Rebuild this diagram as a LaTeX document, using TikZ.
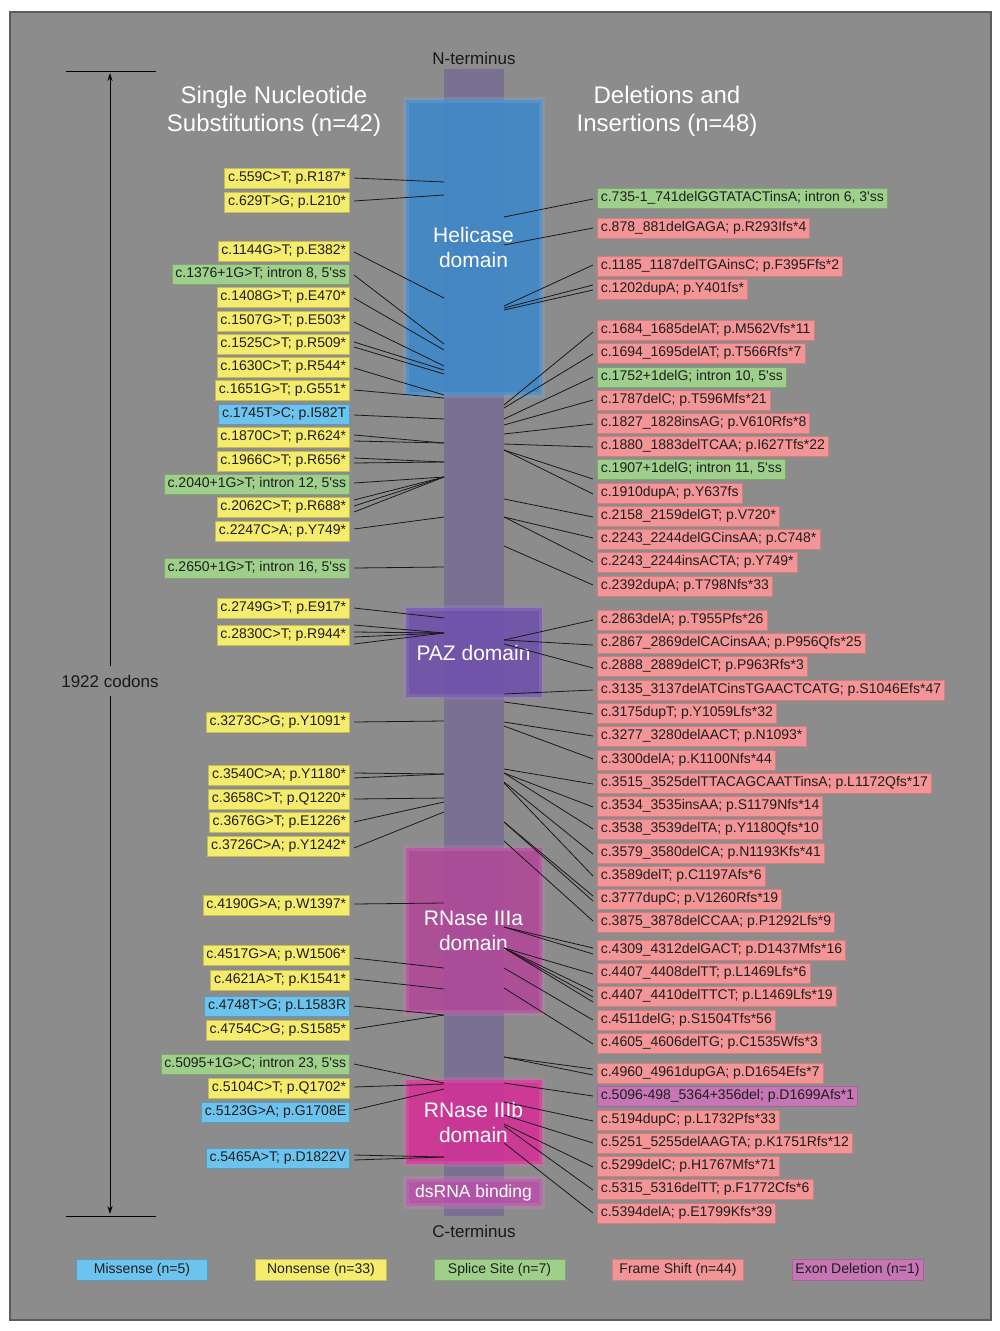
\documentclass[tikz,border=0pt]{standalone}
\usepackage{fontspec}
\setmainfont{Liberation Sans}[Ligatures=TeXOff]
\usetikzlibrary{arrows.meta}
\definecolor{bgc}{HTML}{8C8C8C}
\definecolor{framec}{HTML}{5C5C5C}
\definecolor{barc}{HTML}{7A7192}
\definecolor{cyel}{HTML}{F5EB6C}
\definecolor{cgrn}{HTML}{9FD08B}
\definecolor{cblu}{HTML}{6CC4EE}
\definecolor{cpnk}{HTML}{F39597}
\definecolor{cpur}{HTML}{C675B5}
\definecolor{dhel}{HTML}{3D88CA}
\definecolor{dpaz}{HTML}{6F50AE}
\definecolor{dra}{HTML}{B24799}
\definecolor{drb}{HTML}{D52F97}
\definecolor{dds}{HTML}{B752A8}
\definecolor{txt}{HTML}{1E1E1E}
\newcommand\lcn[3]{\path (444,#3) coordinate (lend); \draw[conn] ([shift={(4,#2)}]#1.east) -- (lend);}
\newcommand\rcn[3]{\path (504,#2) coordinate (rend); \draw[conn] (rend) -- ([shift={(-4,#3)}]#1.west);}
\tikzset{
  lab/.style={font=\fontsize{14}{16}\selectfont, text=txt, inner xsep=3.5pt, inner ysep=3.5pt, text height=10pt, text depth=3pt, line width=0.7pt},
  ly/.style={lab, fill=cyel, draw=cyel!80!black},
  lg/.style={lab, fill=cgrn, draw=cgrn!80!black},
  lb/.style={lab, fill=cblu, draw=cblu!80!black},
  lp/.style={lab, fill=cpnk, draw=cpnk!85!black},
  lm/.style={lab, fill=cpur, draw=cpur!85!black},
  lft/.style={anchor=east, yshift=-1pt},
  rgt/.style={anchor=west, yshift=-1pt},
  leg/.style={minimum width=131, inner ysep=4pt, yshift=-1pt},
  conn/.style={draw=black!90, line width=0.8pt},
  dom/.style={text=white, align=center, font=\fontsize{21}{25}\selectfont, line width=6pt, inner sep=0pt, fill opacity=0.88, draw opacity=0.3, text opacity=1},
  ttl/.style={text=white, align=center, font=\fontsize{24}{28}\selectfont},
  dark/.style={text=black!90, font=\fontsize{17}{20}\selectfont},
  arr/.style={draw=black, line width=0.9pt, -{Stealth[length=8pt,width=5pt]}},
}
\begin{document}
\begin{tikzpicture}[x=1pt,y=-1pt]
\useasboundingbox (0,0) rectangle (1000,1331);
\fill[white] (0,0) rectangle (1000,1331);
\draw[draw=framec, line width=1.2pt, fill=bgc] (10,12) rectangle (991,1320);

% protein bar
\node[fill=barc, minimum width=60, minimum height=1147, inner sep=0pt] (bar) at (474,642.5) {};
\node[dark] (nterm) at (474,58) {N-terminus};
\node[dark] (cterm) at (474,1231) {C-terminus};

% domains
\node[dom, fill=dhel, draw=dhel!70!white, minimum width=136, minimum height=295] (hel) at (473.5,247.5) {Helicase\\domain};
\node[dom, fill=dpaz, draw=dpaz!70!white, minimum width=136, minimum height=89] (paz) at (473.5,652.5) {PAZ domain};
\node[dom, fill=dra, draw=dra!70!white, minimum width=136, minimum height=165] (r3a) at (473.5,930.5) {RNase IIIa\\domain};
\node[dom, fill=drb, draw=drb!70!white, minimum width=136, minimum height=84] (r3b) at (473.5,1122) {RNase IIIb\\domain};
\node[dom, fill=dds, draw=dds!70!white, minimum width=136, minimum height=27, font=\fontsize{17.5}{20}\selectfont] (dsr) at (473.5,1192.5) {dsRNA binding};

% titles
\node[ttl] (tleft) at (274,111.5) {Single Nucleotide\\Substitutions (n=42)};
\node[ttl] (tright) at (667,111.5) {Deletions and\\Insertions (n=48)};

% length arrow
\node[dark, inner sep=9pt] (codons) at (110,681) {1922 codons};
\coordinate (atop) at (110,73);
\coordinate (abot) at (110,1214);
\coordinate (h1a) at (66,71); \coordinate (h1b) at (156,71);
\coordinate (h2a) at (66,1216); \coordinate (h2b) at (156,1216);
\draw[line width=0.9pt] (h1a) -- (h1b);
\draw[line width=0.9pt] (h2a) -- (h2b);
\draw[arr] (codons.north) -- (atop);
\draw[arr] (codons.south) -- (abot);

% left labels
\node[ly,lft] (L1) at (350,177) {c.559C>T; p.R187*};
\node[ly,lft] (L2) at (350,201) {c.629T>G; p.L210*};
\node[ly,lft] (L3) at (350,250) {c.1144G>T; p.E382*};
\node[lg,lft] (L4) at (350,273) {c.1376+1G>T; intron 8, 5'ss};
\node[ly,lft] (L5) at (350,296) {c.1408G>T; p.E470*};
\node[ly,lft] (L6) at (350,320) {c.1507G>T; p.E503*};
\node[ly,lft] (L7) at (350,343) {c.1525C>T; p.R509*};
\node[ly,lft] (L8) at (350,366) {c.1630C>T; p.R544*};
\node[ly,lft] (L9) at (350,389) {c.1651G>T; p.G551*};
\node[lb,lft] (L10) at (350,413) {c.1745T>C; p.I582T};
\node[ly,lft] (L11) at (350,436) {c.1870C>T; p.R624*};
\node[ly,lft] (L12) at (350,460) {c.1966C>T; p.R656*};
\node[lg,lft] (L13) at (350,483) {c.2040+1G>T; intron 12, 5'ss};
\node[ly,lft] (L14) at (350,506) {c.2062C>T; p.R688*};
\node[ly,lft] (L15) at (350,530) {c.2247C>A; p.Y749*};
\node[lg,lft] (L16) at (350,567) {c.2650+1G>T; intron 16, 5'ss};
\node[ly,lft] (L17) at (350,607) {c.2749G>T; p.E917*};
\node[ly,lft] (L18) at (350,634) {c.2830C>T; p.R944*};
\node[ly,lft] (L19) at (350,721) {c.3273C>G; p.Y1091*};
\node[ly,lft] (L20) at (350,774) {c.3540C>A; p.Y1180*};
\node[ly,lft] (L21) at (350,798) {c.3658C>T; p.Q1220*};
\node[ly,lft] (L22) at (350,821) {c.3676G>T; p.E1226*};
\node[ly,lft] (L23) at (350,845) {c.3726C>A; p.Y1242*};
\node[ly,lft] (L24) at (350,904) {c.4190G>A; p.W1397*};
\node[ly,lft] (L25) at (350,954) {c.4517G>A; p.W1506*};
\node[ly,lft] (L26) at (350,979) {c.4621A>T; p.K1541*};
\node[lb,lft] (L27) at (350,1005) {c.4748T>G; p.L1583R};
\node[ly,lft] (L28) at (350,1029) {c.4754C>G; p.S1585*};
\node[lg,lft] (L29) at (350,1063) {c.5095+1G>C; intron 23, 5'ss};
\node[ly,lft] (L30) at (350,1087) {c.5104C>T; p.Q1702*};
\node[lb,lft] (L31) at (350,1111) {c.5123G>A; p.G1708E};
\node[lb,lft] (L32) at (350,1157) {c.5465A>T; p.D1822V};

% left connectors
\lcn{L1}{0}{182}
\lcn{L2}{-1}{195}
\lcn{L3}{1}{298}
\lcn{L4}{1}{344}
\lcn{L5}{1}{350}
\lcn{L6}{1}{366}
\lcn{L7}{-2}{370} \lcn{L7}{3}{374}
\lcn{L8}{1}{395}
\lcn{L9}{0}{398}
\lcn{L10}{1}{419}
\lcn{L11}{-2}{443} \lcn{L11}{4}{443}
\lcn{L12}{-3}{462} \lcn{L12}{2}{462}
\lcn{L13}{-1}{477}
\lcn{L14}{-7}{477} \lcn{L14}{-1}{477} \lcn{L14}{5}{477}
\lcn{L15}{-2}{517}
\lcn{L16}{0}{567}
\lcn{L17}{0}{618}
\lcn{L18}{-10}{633} \lcn{L18}{-3}{633} \lcn{L18}{2}{633} \lcn{L18}{9}{633}
\lcn{L19}{0}{721}
\lcn{L20}{-2}{774} \lcn{L20}{3}{774}
\lcn{L21}{0}{798}
\lcn{L22}{0}{802}
\lcn{L23}{2}{812}
\lcn{L24}{-1}{903}
\lcn{L25}{3}{968}
\lcn{L26}{-1}{989}
\lcn{L27}{0}{1015}
\lcn{L28}{-1}{1015}
\lcn{L29}{0}{1083}
\lcn{L30}{-1}{1084}
\lcn{L31}{-2}{1089}
\lcn{L32}{-3}{1157} \lcn{L32}{2}{1157}

% right labels
\node[lg,rgt] (R1) at (597,197) {c.735-1\_741delGGTATACTinsA; intron 6, 3'ss};
\node[lp,rgt] (R2) at (597,227) {c.878\_881delGAGA; p.R293Ifs*4};
\node[lp,rgt] (R3) at (597,265) {c.1185\_1187delTGAinsC; p.F395Ffs*2};
\node[lp,rgt] (R4) at (597,288) {c.1202dupA; p.Y401fs*};
\node[lp,rgt] (R5) at (597,329) {c.1684\_1685delAT; p.M562Vfs*11};
\node[lp,rgt] (R6) at (597,352) {c.1694\_1695delAT; p.T566Rfs*7};
\node[lg,rgt] (R7) at (597,376) {c.1752+1delG; intron 10, 5'ss};
\node[lp,rgt] (R8) at (597,399) {c.1787delC; p.T596Mfs*21};
\node[lp,rgt] (R9) at (597,422) {c.1827\_1828insAG; p.V610Rfs*8};
\node[lp,rgt] (R10) at (597,445) {c.1880\_1883delTCAA; p.I627Tfs*22};
\node[lg,rgt] (R11) at (597,468) {c.1907+1delG; intron 11, 5'ss};
\node[lp,rgt] (R12) at (597,492) {c.1910dupA; p.Y637fs};
\node[lp,rgt] (R13) at (597,515) {c.2158\_2159delGT; p.V720*};
\node[lp,rgt] (R14) at (597,538) {c.2243\_2244delGCinsAA; p.C748*};
\node[lp,rgt] (R15) at (597,561) {c.2243\_2244insACTA; p.Y749*};
\node[lp,rgt] (R16) at (597,585) {c.2392dupA; p.T798Nfs*33};
\node[lp,rgt] (R17) at (597,619) {c.2863delA; p.T955Pfs*26};
\node[lp,rgt] (R18) at (597,642) {c.2867\_2869delCACinsAA; p.P956Qfs*25};
\node[lp,rgt] (R19) at (597,665) {c.2888\_2889delCT; p.P963Rfs*3};
\node[lp,rgt] (R20) at (597,689) {c.3135\_3137delATCinsTGAACTCATG; p.S1046Efs*47};
\node[lp,rgt] (R21) at (597,712) {c.3175dupT; p.Y1059Lfs*32};
\node[lp,rgt] (R22) at (597,735) {c.3277\_3280delAACT; p.N1093*};
\node[lp,rgt] (R23) at (597,759) {c.3300delA; p.K1100Nfs*44};
\node[lp,rgt] (R24) at (597,782) {c.3515\_3525delTTACAGCAATTinsA; p.L1172Qfs*17};
\node[lp,rgt] (R25) at (597,805) {c.3534\_3535insAA; p.S1179Nfs*14};
\node[lp,rgt] (R26) at (597,828) {c.3538\_3539delTA; p.Y1180Qfs*10};
\node[lp,rgt] (R27) at (597,852) {c.3579\_3580delCA; p.N1193Kfs*41};
\node[lp,rgt] (R28) at (597,875) {c.3589delT; p.C1197Afs*6};
\node[lp,rgt] (R29) at (597,898) {c.3777dupC; p.V1260Rfs*19};
\node[lp,rgt] (R30) at (597,921) {c.3875\_3878delCCAA; p.P1292Lfs*9};
\node[lp,rgt] (R31) at (597,949) {c.4309\_4312delGACT; p.D1437Mfs*16};
\node[lp,rgt] (R32) at (597,972) {c.4407\_4408delTT; p.L1469Lfs*6};
\node[lp,rgt] (R33) at (597,995) {c.4407\_4410delTTCT; p.L1469Lfs*19};
\node[lp,rgt] (R34) at (597,1019) {c.4511delG; p.S1504Tfs*56};
\node[lp,rgt] (R35) at (597,1042) {c.4605\_4606delTG; p.C1535Wfs*3};
\node[lp,rgt] (R36) at (597,1072) {c.4960\_4961dupGA; p.D1654Efs*7};
\node[lm,rgt] (R37) at (597,1095) {c.5096-498\_5364+356del; p.D1699Afs*1};
\node[lp,rgt] (R38) at (597,1119) {c.5194dupC; p.L1732Pfs*33};
\node[lp,rgt] (R39) at (597,1142) {c.5251\_5255delAAGTA; p.K1751Rfs*12};
\node[lp,rgt] (R40) at (597,1165) {c.5299delC; p.H1767Mfs*71};
\node[lp,rgt] (R41) at (597,1188) {c.5315\_5316delTT; p.F1772Cfs*6};
\node[lp,rgt] (R42) at (597,1212) {c.5394delA; p.E1799Kfs*39};

% right connectors
\rcn{R1}{217}{1}
\rcn{R2}{245}{0}
\rcn{R3}{306}{-1}
\rcn{R4}{308}{-4} \rcn{R4}{310}{1}
\rcn{R5}{405}{2}
\rcn{R6}{408}{1}
\rcn{R7}{419}{0}
\rcn{R8}{425}{0}
\rcn{R9}{434}{1}
\rcn{R10}{444}{1}
\rcn{R11}{450}{10}
\rcn{R12}{450}{1}
\rcn{R13}{499}{1}
\rcn{R14}{517}{-1}
\rcn{R15}{517}{0}
\rcn{R16}{546}{-1}
\rcn{R17}{640}{0}
\rcn{R18}{640}{2}
\rcn{R19}{644}{2}
\rcn{R20}{694}{0}
\rcn{R21}{702}{1}
\rcn{R22}{722}{0}
\rcn{R23}{726}{-1}
\rcn{R24}{769}{1}
\rcn{R25}{773}{1}
\rcn{R26}{773}{0}
\rcn{R27}{782}{1}
\rcn{R28}{783}{0}
\rcn{R29}{822}{-3} \rcn{R29}{822}{2}
\rcn{R30}{841}{-1}
\rcn{R31}{927}{-2} \rcn{R31}{927}{4}
\rcn{R32}{948}{1}
\rcn{R33}{948}{-5} \rcn{R33}{948}{1} \rcn{R33}{948}{6}
\rcn{R34}{968}{0}
\rcn{R35}{988}{1}
\rcn{R36}{1057}{-4} \rcn{R36}{1057}{2}
\rcn{R37}{1083}{0}
\rcn{R38}{1102}{1}
\rcn{R39}{1115}{0}
\rcn{R40}{1124}{1}
\rcn{R41}{1126}{1}
\rcn{R42}{1143}{0}

% legend
\node[lb,leg] (G1) at (142,1268.5) {Missense (n=5)};
\node[ly,leg] (G2) at (321,1268.5) {Nonsense (n=33)};
\node[lg,leg] (G3) at (499.5,1268.5) {Splice Site (n=7)};
\node[lp,leg] (G4) at (678,1268.5) {Frame Shift (n=44)};
\node[lm,leg] (G5) at (857.5,1268.5) {Exon Deletion (n=1)};
\end{tikzpicture}
\end{document}
